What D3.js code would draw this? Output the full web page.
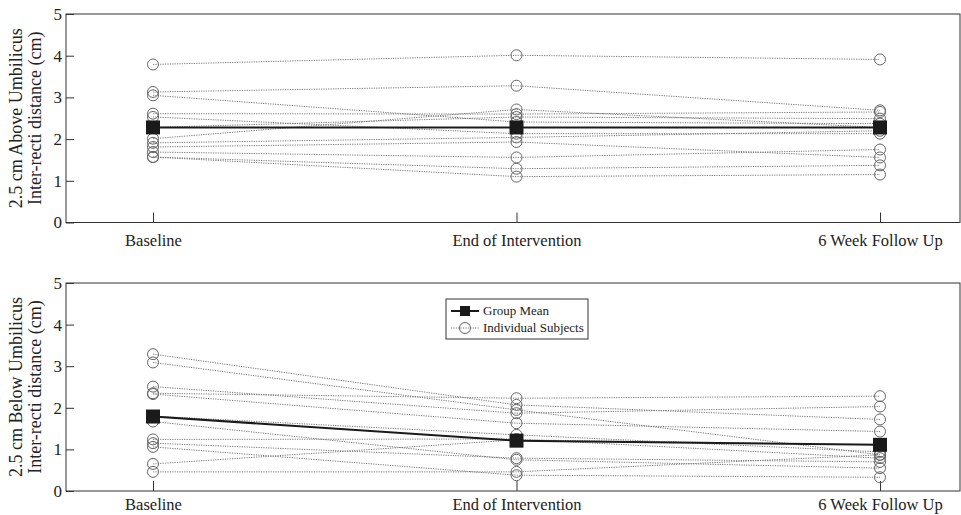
<!DOCTYPE html>
<html>
<head>
<meta charset="utf-8">
<script src="https://cdn.jsdelivr.net/npm/d3@7"></script>
<style>
  body { margin: 0; background: #fff; }
  text { font-family: "Liberation Serif", "Times New Roman", serif; fill: #222; }
</style>
</head>
<body>
<div id="chart"></div>
<script>
// time points
const timepoints = ["Baseline", "End of Intervention", "6 Week Follow Up"];
const yTicks = [0, 1, 2, 3, 4, 5];

// 2.5 cm above umbilicus, one row per subject
const aboveSubjects = [
  [3.79, 4.01, 3.91],
  [3.13, 3.28, 2.69],
  [3.05, 2.41, 2.37],
  [2.61, 2.60, 2.65],
  [2.53, 2.13, 2.13],
  [2.28, 2.53, 2.49],
  [2.01, 2.71, 2.28],
  [1.91, 2.04, 2.20],
  [1.81, 1.93, 1.56],
  [1.69, 1.56, 1.75],
  [1.57, 1.29, 1.37],
  [1.57, 1.10, 1.15]
];
const aboveMean = [2.28, 2.28, 2.28];

// 2.5 cm below umbilicus
const belowSubjects = [
  [3.29, 2.07, 1.72],
  [3.09, 1.95, 0.87],
  [2.51, 1.87, 2.03],
  [2.35, 2.23, 2.28],
  [2.33, 1.63, 1.43],
  [1.80, 1.35, 0.94],
  [1.67, 0.75, 0.55],
  [1.24, 1.25, 0.79],
  [1.15, 0.79, 0.70],
  [1.06, 0.38, 0.33],
  [0.65, 1.23, 1.11],
  [0.46, 0.46, 0.87]
];
const belowMean = [1.79, 1.21, 1.11];

const panels = [
  { label1: "2.5 cm Above Umbilicus", subjects: aboveSubjects, mean: aboveMean, top: 14, bottom: 222.5, labelY: 23, legend: false },
  { label1: "2.5 cm Below Umbilicus", subjects: belowSubjects, mean: belowMean, top: 283, bottom: 491, labelY: 19, legend: true }
];

const W = 961, H = 515;
const left = 66, right = 960;
const serif = "'Liberation Serif', 'Times New Roman', serif";

const svg = d3.select("#chart").append("svg")
  .attr("width", W)
  .attr("height", H);

const x = d3.scalePoint().domain(timepoints).range([153, 880]);

panels.forEach(p => {
  const y = d3.scaleLinear().domain([0, 5]).range([p.bottom, p.top]);
  const g = svg.append("g");

  // frame
  g.append("rect")
    .attr("x", left)
    .attr("y", p.top)
    .attr("width", right - left)
    .attr("height", p.bottom - p.top)
    .attr("fill", "none")
    .attr("stroke", "#333")
    .attr("stroke-width", 1);

  // y axis, ticks inward
  const ya = g.append("g")
    .attr("transform", `translate(${left},0)`)
    .call(d3.axisRight(y).tickValues(yTicks).tickSize(8).tickFormat(d3.format("d")))
    .attr("font-family", serif)
    .attr("font-size", 17);
  ya.select(".domain").remove();
  ya.selectAll("line").attr("stroke", "#333");
  ya.selectAll("text")
    .attr("x", -4)
    .attr("text-anchor", "end")
    .attr("fill", "#222");

  // x axis, ticks inward
  const xa = g.append("g")
    .attr("transform", `translate(0,${p.bottom})`)
    .call(d3.axisTop(x).tickSize(10))
    .attr("font-family", serif)
    .attr("font-size", 16.5);
  xa.select(".domain").remove();
  xa.selectAll("line").attr("stroke", "#333");
  xa.selectAll("text")
    .attr("y", p.labelY)
    .attr("fill", "#222");

  // y labels
  const cy = (p.top + p.bottom) / 2;
  g.append("text")
    .attr("transform", `translate(22,${cy}) rotate(-90)`)
    .attr("text-anchor", "middle")
    .style("font-size", "18px")
    .text(p.label1);
  g.append("text")
    .attr("transform", `translate(41,${cy}) rotate(-90)`)
    .attr("text-anchor", "middle")
    .style("font-size", "18px")
    .text("Inter-recti distance (cm)");

  const line = d3.line()
    .x((d, i) => x(timepoints[i]))
    .y(d => y(d));

  // individual subjects
  p.subjects.forEach(s => {
    g.append("path")
      .attr("d", line(s))
      .attr("fill", "none")
      .attr("stroke", "#777")
      .attr("stroke-width", 1)
      .attr("stroke-dasharray", "1.2,1.2");
    g.selectAll(null)
      .data(s)
      .enter()
      .append("circle")
      .attr("cx", (d, i) => x(timepoints[i]))
      .attr("cy", d => y(d))
      .attr("r", 5.5)
      .attr("fill", "none")
      .attr("stroke", "#666")
      .attr("stroke-width", 1);
  });

  // group mean
  g.append("path")
    .attr("d", line(p.mean))
    .attr("fill", "none")
    .attr("stroke", "#1a1a1a")
    .attr("stroke-width", 2);
  g.selectAll(null)
    .data(p.mean)
    .enter()
    .append("rect")
    .attr("x", (d, i) => x(timepoints[i]) - 7)
    .attr("y", d => y(d) - 7)
    .attr("width", 14)
    .attr("height", 14)
    .attr("fill", "#1a1a1a");

  if (p.legend) {
    const lg = g.append("g").attr("transform", "translate(446,299)");
    lg.append("rect")
      .attr("width", 142)
      .attr("height", 40)
      .attr("fill", "#fff")
      .attr("stroke", "#333");
    lg.append("line")
      .attr("x1", 5).attr("x2", 33).attr("y1", 12).attr("y2", 12)
      .attr("stroke", "#1a1a1a").attr("stroke-width", 2);
    lg.append("rect")
      .attr("x", 14).attr("y", 7).attr("width", 10).attr("height", 10)
      .attr("fill", "#1a1a1a");
    lg.append("text")
      .attr("x", 37).attr("y", 16)
      .style("font-size", "13px")
      .text("Group Mean");
    lg.append("line")
      .attr("x1", 5).attr("x2", 33).attr("y1", 29).attr("y2", 29)
      .attr("stroke", "#777").attr("stroke-width", 1)
      .attr("stroke-dasharray", "1.2,1.2");
    lg.append("circle")
      .attr("cx", 19).attr("cy", 29).attr("r", 5.5)
      .attr("fill", "none").attr("stroke", "#666");
    lg.append("text")
      .attr("x", 37).attr("y", 33)
      .style("font-size", "13px")
      .text("Individual Subjects");
  }
});
</script>
</body>
</html>
